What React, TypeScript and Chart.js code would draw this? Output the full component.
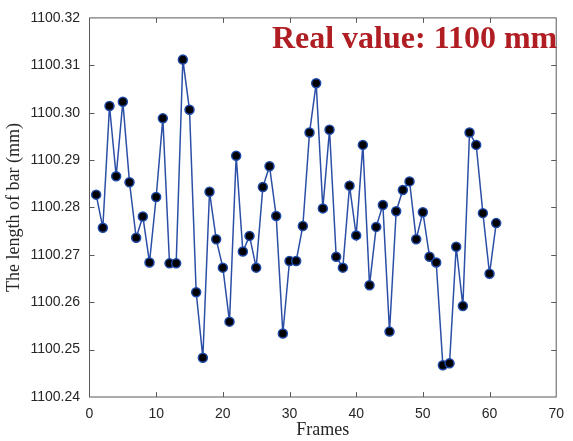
import { useEffect, useRef } from 'react';
import { Chart, registerables } from 'chart.js';

Chart.register(...registerables);

const frames = [
  1, 2, 3, 4, 5, 6, 7, 8, 9, 10,
  11, 12, 13, 14, 15, 16, 17, 18, 19, 20,
  21, 22, 23, 24, 25, 26, 27, 28, 29, 30,
  31, 32, 33, 34, 35, 36, 37, 38, 39, 40,
  41, 42, 43, 44, 45, 46, 47, 48, 49, 50,
  51, 52, 53, 54, 55, 56, 57, 58, 59, 60, 61,
];

const barLength = [
  1100.2827, 1100.2757, 1100.3014, 1100.2866, 1100.3023, 1100.2853, 1100.2736, 1100.2781, 1100.2684, 1100.2822,
  1100.2988, 1100.2682, 1100.2682, 1100.3112, 1100.3006, 1100.2621, 1100.2483, 1100.2833, 1100.2733, 1100.2673,
  1100.2559, 1100.2909, 1100.2707, 1100.2740, 1100.2673, 1100.2843, 1100.2887, 1100.2782, 1100.2534, 1100.2687,
  1100.2687, 1100.2761, 1100.2958, 1100.3062, 1100.2798, 1100.2964, 1100.2696, 1100.2673, 1100.2846, 1100.2741,
  1100.2932, 1100.2636, 1100.2759, 1100.2805, 1100.2538, 1100.2792, 1100.2837, 1100.2855, 1100.2733, 1100.2790,
  1100.2696, 1100.2684, 1100.2467, 1100.2471, 1100.2717, 1100.2592, 1100.2958, 1100.2932, 1100.2788, 1100.2660,
  1100.2767,
];

const xRange = [0, 70];
const xStep = 10;
const yRange = [1100.24, 1100.32];
const yStep = 0.01;

const xTitle = 'Frames';
const yTitle = 'The length of bar (mm)';
const annotation = 'Real value: 1100 mm';

const boxPlugin = {
  id: 'boxTicks',
  afterDatasetsDraw(chart: any) {
    const { ctx, chartArea: a, scales } = chart;
    ctx.save();
    ctx.strokeStyle = '#5a5a5a';
    ctx.lineWidth = 1;
    ctx.strokeRect(a.left, a.top, a.right - a.left, a.bottom - a.top);
    const L = 5;
    ctx.beginPath();
    scales.x.ticks.forEach((t: any) => {
      const px = Math.round(scales.x.getPixelForValue(t.value)) + 0.5;
      if (px <= a.left + 1 || px >= a.right - 1) return;
      ctx.moveTo(px, a.bottom);
      ctx.lineTo(px, a.bottom - L);
      ctx.moveTo(px, a.top);
      ctx.lineTo(px, a.top + L);
    });
    scales.y.ticks.forEach((t: any) => {
      const py = Math.round(scales.y.getPixelForValue(t.value)) + 0.5;
      if (py <= a.top + 1 || py >= a.bottom - 1) return;
      ctx.moveTo(a.left, py);
      ctx.lineTo(a.left + L, py);
      ctx.moveTo(a.right, py);
      ctx.lineTo(a.right - L, py);
    });
    ctx.stroke();

    ctx.fillStyle = '#b01e23';
    ctx.font = 'bold 32px "Liberation Serif", "Times New Roman", serif';
    ctx.textAlign = 'right';
    ctx.textBaseline = 'alphabetic';
    ctx.fillText(annotation, a.right + 1, a.top + 30);
    ctx.restore();
  },
};

export default function App() {
  const ref = useRef<HTMLCanvasElement | null>(null);

  useEffect(() => {
    if (!ref.current) return;
    const chart = new Chart(ref.current, {
      type: 'line',
      data: {
        datasets: [
          {
            data: frames.map((f, i) => ({ x: f, y: barLength[i] })),
            borderColor: '#2b4fa6',
            borderWidth: 1.5,
            pointRadius: 4.5,
            pointBackgroundColor: '#000000',
            pointBorderColor: '#1e4aa6',
            pointBorderWidth: 1.5,
            tension: 0,
            fill: false,
          },
        ],
      },
      options: {
        animation: false,
        responsive: false,
        layout: { padding: { top: 16, right: 6.5, left: 0, bottom: 0 } },
        plugins: {
          legend: { display: false },
          tooltip: { enabled: false },
        },
        scales: {
          x: {
            type: 'linear',
            min: xRange[0],
            max: xRange[1],
            ticks: {
              stepSize: xStep,
              padding: 9,
              color: '#262626',
              font: { family: '"Liberation Sans", Arial, sans-serif', size: 14 },
            },
            grid: { display: false, drawTicks: false },
            border: { display: false },
            title: {
              display: true,
              text: xTitle,
              color: '#262626',
              padding: { top: 0, bottom: 0 },
              font: { family: '"Liberation Serif", "Times New Roman", serif', size: 18 },
            },
            afterFit: (s: any) => {
              s.height = 44;
            },
          },
          y: {
            type: 'linear',
            min: yRange[0],
            max: yRange[1],
            ticks: {
              stepSize: yStep,
              padding: 9.5,
              color: '#262626',
              font: { family: '"Liberation Sans", Arial, sans-serif', size: 14 },
              callback: (v: any) => Number(v).toFixed(2),
            },
            grid: { display: false, drawTicks: false },
            border: { display: false },
            title: {
              display: true,
              text: yTitle,
              color: '#262626',
              padding: { top: 3, bottom: 0 },
              font: { family: '"Liberation Serif", "Times New Roman", serif', size: 18 },
            },
            afterFit: (s: any) => {
              s.width = 89.5;
            },
          },
        },
      },
      plugins: [boxPlugin],
    });
    return () => chart.destroy();
  }, []);

  return (
    <div style={{ position: 'absolute', left: 0, top: 0, width: 573, height: 441, background: '#fff' }}>
      <canvas ref={ref} width={573} height={441} style={{ display: 'block' }} />
    </div>
  );
}
